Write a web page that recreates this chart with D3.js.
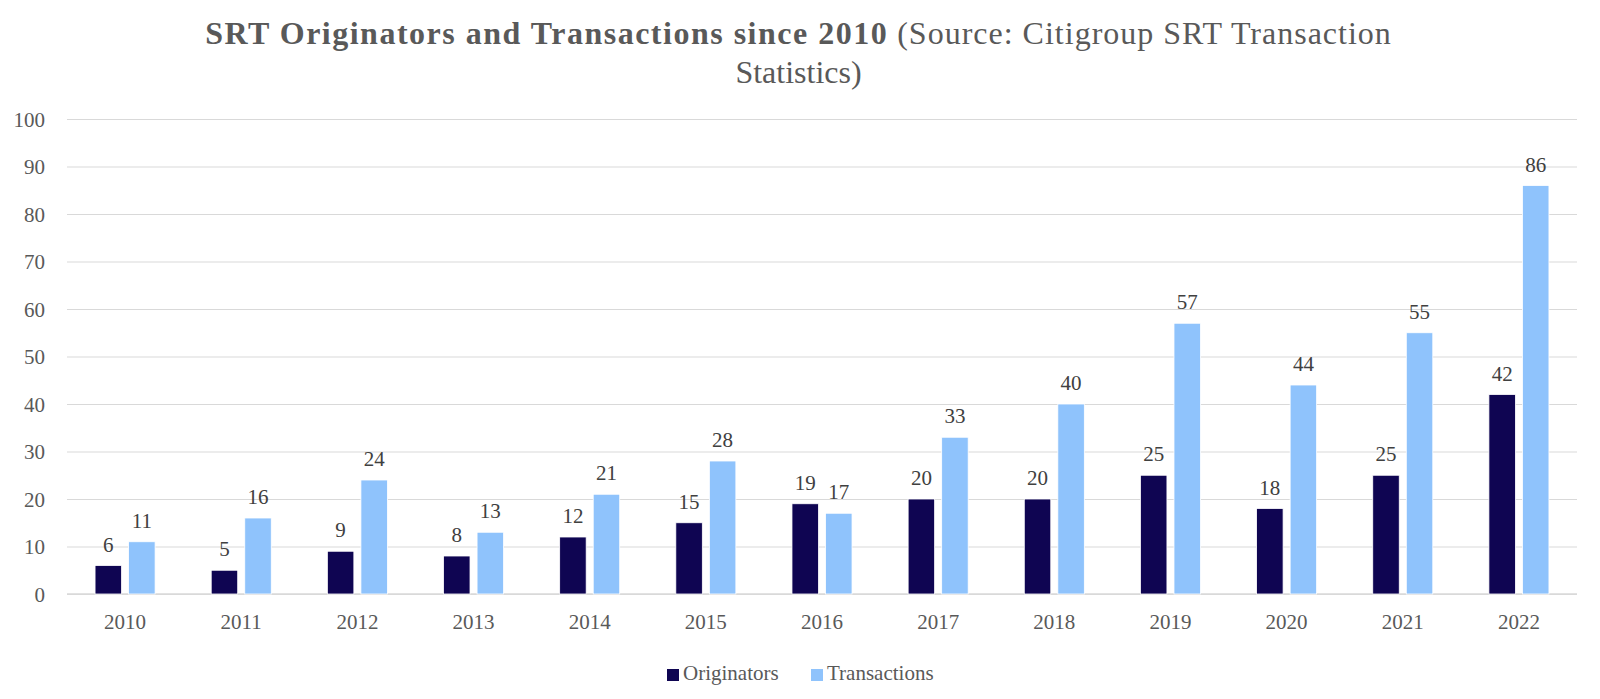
<!DOCTYPE html>
<html><head><meta charset="utf-8">
<script src="https://cdn.jsdelivr.net/npm/d3@7"></script>
<style>body{margin:0;background:#fff}svg{display:block}</style>
</head><body>
<svg id="c" width="1600" height="699"></svg>
<script>
const categories = ["2010","2011","2012","2013","2014","2015","2016","2017","2018","2019","2020","2021","2022"];
const seriesNames = ["Originators","Transactions"];
const originators = [6,5,9,8,12,15,19,20,20,25,18,25,42];
const transactions = [11,16,24,13,21,28,17,33,40,57,44,55,86];
const yTicks = [0,10,20,30,40,50,60,70,80,90,100];
const colors = ["#0f0552","#8fc3fc"];
const seriesValues = [originators, transactions];

const svg = d3.select("#c");
const font = "'Liberation Serif', 'DejaVu Serif', serif";
const L = 67, R = 1577, T = 119, B = 594;

const x0 = d3.scaleBand().domain(categories).range([L, R]).paddingInner(0.483).paddingOuter(0.2415);
const x1 = d3.scaleBand().domain(seriesNames).range([0, x0.bandwidth()]).paddingInner(0.21);
const y = d3.scaleLinear().domain([0, 100]).range([B, T]);

// gridlines
const yAxis = d3.axisLeft(y).tickValues(yTicks).tickSize(-(R - L)).tickPadding(22);
const gy = svg.append("g").attr("transform", `translate(${L},0)`).call(yAxis);
gy.select(".domain").remove();
gy.selectAll(".tick line").attr("stroke", "#d9d9d9").attr("stroke-width", 1);
gy.selectAll(".tick text").attr("font-family", font).attr("font-size", 21).attr("fill", "#595959").attr("dy", "0.34em");

// x axis
const xAxis = d3.axisBottom(x0).tickSize(0).tickPadding(20);
const gx = svg.append("g").attr("transform", `translate(0,${B})`).call(xAxis);
gx.select(".domain").attr("stroke", "#d9d9d9").attr("stroke-width", 1.5).attr("d", `M${L},0H${R}`);
gx.selectAll(".tick text").attr("font-family", font).attr("font-size", 21).attr("fill", "#595959").attr("dy", "0.71em");

// bars
const rows = categories.map((c, i) => ({c, vals: seriesNames.map((s, k) => ({s, k, v: seriesValues[k][i]}))}));
const grp = svg.append("g").selectAll("g").data(rows).join("g")
  .attr("transform", d => `translate(${x0(d.c)},0)`);
grp.selectAll("rect").data(d => d.vals).join("rect")
  .attr("x", d => x1(d.s)).attr("width", x1.bandwidth())
  .attr("y", d => y(d.v)).attr("height", d => y(0) - y(d.v))
  .attr("fill", d => colors[d.k]).attr("stroke", "#fff").attr("stroke-width", 0.8);
grp.selectAll("text").data(d => d.vals).join("text")
  .attr("x", d => x1(d.s) + x1.bandwidth() / 2).attr("y", d => y(d.v) - 14)
  .attr("text-anchor", "middle").attr("font-family", font).attr("font-size", 21)
  .attr("fill", "#404040").text(d => d.v);

// title
const t = svg.append("text").attr("x", 798.5).attr("y", 44).attr("text-anchor", "middle")
  .attr("font-family", font).attr("font-size", 32).attr("fill", "#595959");
t.append("tspan").attr("font-weight", "bold").attr("letter-spacing", 1.5).text("SRT Originators and Transactions since 2010");
t.append("tspan").attr("letter-spacing", 1).text(" (Source: Citigroup SRT Transaction");
svg.append("text").attr("x", 798.5).attr("y", 83).attr("text-anchor", "middle")
  .attr("font-family", font).attr("font-size", 32).attr("fill", "#595959").text("Statistics)");

// legend
const legendX = [667, 811];
const lg = svg.append("g").selectAll("g").data(seriesNames).join("g")
  .attr("transform", (d, i) => `translate(${legendX[i]},669)`);
lg.append("rect").attr("width", 12).attr("height", 12).attr("fill", (d, i) => colors[i]);
lg.append("text").attr("x", 16).attr("y", 11).attr("font-family", font).attr("font-size", 21)
  .attr("fill", "#595959").text(d => d);
</script>
</body></html>
